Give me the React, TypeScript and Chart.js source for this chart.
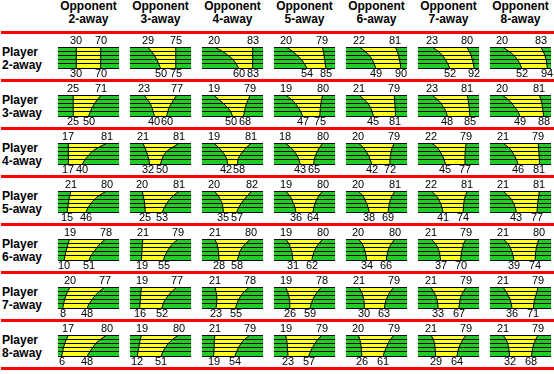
import React, { useEffect, useRef } from 'react';
import { Chart, registerables } from 'chart.js';

Chart.register(...registerables);

const opponentLabels = ['2-away', '3-away', '4-away', '5-away', '6-away', '7-away', '8-away'];
const playerLabels = ['2-away', '3-away', '4-away', '5-away', '6-away', '7-away', '8-away'];

// Boundary values (0-100) read at the six stripe edges, top to bottom, one entry per opponent column.
const p2Left = [
  [30, 30, 30, 30, 30, 30], [29, 35, 40, 44, 47, 50], [20, 33, 43, 51, 56, 60], [20, 30, 38, 45, 50, 54],
  [22, 31, 38, 43, 46, 49], [23, 33, 40, 45, 49, 52], [20, 31, 39, 45, 49, 52],
];
const p2Right = [
  [70, 70, 70, 70, 70, 70], [75, 75, 75, 75, 75, 75], [83, 83, 83, 83, 83, 83], [79, 81, 82, 83, 84, 85],
  [81, 84, 86, 87.5, 89, 90], [80, 84, 87, 89, 91, 92], [83, 87, 90, 92, 93, 94],
];
const p3Left = [
  [25, 25, 25, 25, 25, 25], [23, 28, 33, 36, 38, 40], [19, 27, 35, 42, 47, 50], [19, 28, 35, 40, 44, 47],
  [21, 29, 36, 40, 43, 45], [23, 31, 38, 42, 46, 48], [20, 29, 36, 41, 46, 49],
];
const p3Right = [
  [71, 65, 60, 56, 53, 50], [77, 72, 68, 64, 62, 60], [79, 76, 73, 71, 69.5, 68], [80, 78, 77, 76, 75.5, 75],
  [79, 79.5, 80, 80.5, 81, 81], [81, 82, 83, 84, 84.5, 85], [81, 83, 85, 86, 87, 88],
];
const p4Left = [
  [17, 17, 17, 17, 17, 17], [21, 24, 27, 29, 31, 32], [19, 27, 33, 38, 41, 42], [18, 27, 33, 38, 41, 43],
  [20, 28, 33, 37, 40, 42], [22, 31, 36, 40, 43, 45], [21, 30, 36, 40, 43.5, 46],
];
const p4Right = [
  [81, 67, 56, 50, 44, 40], [81, 70, 60, 55, 52, 50], [81, 73, 67, 62, 59, 58], [80, 75, 71, 68, 66, 65],
  [79, 76, 74, 73, 72, 72], [79, 78, 77.5, 77, 77, 77], [79, 79.5, 80, 80.5, 81, 81],
];
const p5Left = [
  [21, 19.5, 18, 17, 16, 15], [20, 21.5, 23, 24, 24.5, 25], [20, 26, 30, 33, 34.5, 35], [19, 25, 29, 32, 34.5, 36],
  [20, 27, 31, 34, 36.5, 38], [22, 29, 34, 37, 39.5, 41], [21, 29, 35, 39, 41.5, 43],
];
const p5Right = [
  [80, 68, 60, 54, 49, 46], [81, 72, 65, 60, 56, 53], [82, 75, 69, 64, 60, 57], [80, 74, 70, 67, 65, 64],
  [81, 76, 73, 71, 70, 69], [81, 78, 76, 75, 74.5, 74], [81, 80, 79, 78, 77.5, 77],
];
const p6Left = [
  [19, 17, 15, 13, 11.5, 10], [21, 20.5, 20, 19.5, 19, 19], [21, 24, 26, 27, 27.5, 28], [19, 24, 27, 29, 30.5, 31],
  [20, 26, 29, 31.5, 33, 34], [21, 28, 32, 35, 36, 37], [21, 29, 33, 36, 38, 39],
];
const p6Right = [
  [78, 70, 64, 59, 54, 51], [79, 71, 65, 61, 57, 55], [80, 72, 66, 62, 60, 58], [80, 74, 69, 66, 63.5, 62],
  [80, 75, 71, 68.5, 67, 66], [79, 75, 73, 71.5, 70.5, 70], [80, 78, 76, 75, 74.5, 74],
];
const p7Left = [
  [20, 16, 13, 11, 9, 8], [19, 18, 17.5, 17, 16.5, 16], [21, 23, 24, 24.5, 24, 23], [19, 22, 24, 25.5, 26, 26],
  [21, 25, 27.5, 29, 30, 30], [21, 25, 29, 31, 32.5, 33], [21, 26, 30, 33, 35, 36],
];
const p7Right = [
  [77, 68, 61, 56, 51, 48], [77, 69, 63, 58, 54.5, 52], [78, 70, 64, 60, 57, 55], [78, 72, 67, 63.5, 61, 59],
  [79, 73, 69, 66, 64, 63], [79, 75, 71, 69, 68, 67], [79, 77, 75, 73, 72, 71],
];
const p8Left = [
  [17, 14, 11, 9, 7.5, 6], [19, 17, 15.5, 14.5, 13, 12], [21, 20.5, 20, 20, 19.5, 19], [19, 20.5, 21.5, 22, 22.5, 23],
  [20, 22.5, 24, 25, 25.5, 26], [21, 25, 27, 28, 28.5, 29], [21, 26, 29, 30.5, 31.5, 32],
];
const p8Right = [
  [80, 70, 62, 57, 52, 48], [80, 70, 63, 58, 54, 51], [79, 70, 64, 60, 56.5, 54], [79, 72, 67, 63, 59.5, 57],
  [79, 73, 69, 66, 63, 61], [79, 74, 70, 67, 65, 64], [79, 75, 72, 70, 69, 68],
];

const leftRows = [p2Left, p3Left, p4Left, p5Left, p6Left, p7Left, p8Left];
const rightRows = [p2Right, p3Right, p4Right, p5Right, p6Right, p7Right, p8Right];

const GREEN = '#22cc22';
const YELLOW = '#ffff22';
const RED = '#ff0000';
const FONT_FAMILY = '"Liberation Sans", Arial, Helvetica, sans-serif';
const LABEL_FONT = '11px ' + FONT_FAMILY;

const COL_X0 = 58;
const COL_STEP = 72;
const ROW_STEP = 48;
const PAD_X = 8;
const CELL_W = 61;

const cellPlugin = {
  id: 'cellDecor',
  beforeDraw(chart: any) {
    const { ctx, chartArea: a } = chart;
    ctx.save();
    ctx.fillStyle = GREEN;
    ctx.fillRect(a.left, a.top, a.right - a.left, a.bottom - a.top);
    ctx.restore();
  },
  afterDraw(chart: any) {
    const { ctx, chartArea: a, scales } = chart;
    const xs = scales.x;
    const L = chart.data.datasets[0].data;
    const R = chart.data.datasets[1].data;
    ctx.save();
    ctx.font = LABEL_FONT;
    ctx.fillStyle = '#000';
    ctx.textAlign = 'center';
    ctx.textBaseline = 'alphabetic';
    const pair = (lv: number, rv: number, y: number) => {
      let xl = xs.getPixelForValue(lv);
      let xr = xs.getPixelForValue(rv);
      const tl = String(lv);
      const tr = String(rv);
      const need = (ctx.measureText(tl).width + ctx.measureText(tr).width) / 2 + 1;
      if (xr - xl < need) {
        const d = (need - (xr - xl)) / 2;
        xl -= d;
        xr += d;
      }
      ctx.fillText(tl, Math.round(xl), y);
      ctx.fillText(tr, Math.round(xr), y);
    };
    pair(L[0].x, R[0].x, a.top - 3);
    pair(L[L.length - 1].x, R[R.length - 1].x, a.bottom + 9);
    ctx.restore();
  },
};

function Cell({ left, right, col, row }: { left: number[]; right: number[]; col: number; row: number }) {
  const ref = useRef<HTMLCanvasElement | null>(null);
  useEffect(() => {
    const chart = new Chart(ref.current as HTMLCanvasElement, {
      type: 'line',
      data: {
        datasets: [
          {
            data: left.map((v, i) => ({ x: v, y: i })),
            borderColor: '#000',
            borderWidth: 1,
            pointRadius: 0,
            fill: false,
            cubicInterpolationMode: 'monotone',
          },
          {
            data: right.map((v, i) => ({ x: v, y: i })),
            borderColor: '#000',
            borderWidth: 1,
            pointRadius: 0,
            fill: '-1',
            backgroundColor: YELLOW,
            cubicInterpolationMode: 'monotone',
          },
        ],
      } as any,
      options: {
        indexAxis: 'y',
        animation: false,
        responsive: false,
        maintainAspectRatio: false,
        events: [],
        layout: { padding: { left: PAD_X, right: PAD_X, top: 12, bottom: 13 } },
        plugins: { legend: { display: false }, tooltip: { enabled: false } },
        scales: {
          x: { type: 'linear', min: 0, max: 100, display: false },
          y: {
            type: 'linear',
            min: 0,
            max: 5,
            reverse: true,
            ticks: { display: false, stepSize: 1 },
            grid: { color: '#000', lineWidth: 1, drawTicks: false, z: 1 },
            border: { display: false },
          },
        },
      } as any,
      plugins: [cellPlugin],
    });
    return () => chart.destroy();
  }, [left, right]);
  return (
    <canvas
      ref={ref}
      width={CELL_W + 2 * PAD_X}
      height={46}
      style={{
        position: 'absolute',
        left: COL_X0 + COL_STEP * col - PAD_X,
        top: 35 + ROW_STEP * row,
        width: CELL_W + 2 * PAD_X,
        height: 46,
      }}
    />
  );
}

const boldText: React.CSSProperties = {
  position: 'absolute',
  font: 'bold 12px ' + FONT_FAMILY,
  lineHeight: '13px',
  whiteSpace: 'nowrap',
  color: '#000',
};

export default function App() {
  return (
    <div
      style={{
        position: 'fixed',
        left: 0,
        top: 0,
        width: 554,
        height: 374,
        background: '#fff',
        overflow: 'hidden',
      }}
    >
      {opponentLabels.map((lab, c) => (
        <React.Fragment key={'h' + c}>
          <div style={{ ...boldText, left: COL_X0 + COL_STEP * c - 10, width: CELL_W + 20, textAlign: 'center', top: 0 }}>
            Opponent
          </div>
          <div style={{ ...boldText, left: COL_X0 + COL_STEP * c - 10, width: CELL_W + 20, textAlign: 'center', top: 12.5 }}>
            {lab}
          </div>
        </React.Fragment>
      ))}
      {Array.from({ length: 8 }).map((_, k) => (
        <div
          key={'r' + k}
          style={{ position: 'absolute', left: 1, width: 553, top: 31 + ROW_STEP * k, height: 3, background: RED }}
        />
      ))}
      {playerLabels.map((lab, r) => (
        <React.Fragment key={'p' + r}>
          <div style={{ ...boldText, left: 2, top: 45.5 + ROW_STEP * r }}>Player</div>
          <div style={{ ...boldText, left: 2, top: 58.5 + ROW_STEP * r }}>{lab}</div>
        </React.Fragment>
      ))}
      {leftRows.map((rowL, r) =>
        rowL.map((l, c) => <Cell key={r + '-' + c} left={l} right={rightRows[r][c]} col={c} row={r} />)
      )}
    </div>
  );
}
